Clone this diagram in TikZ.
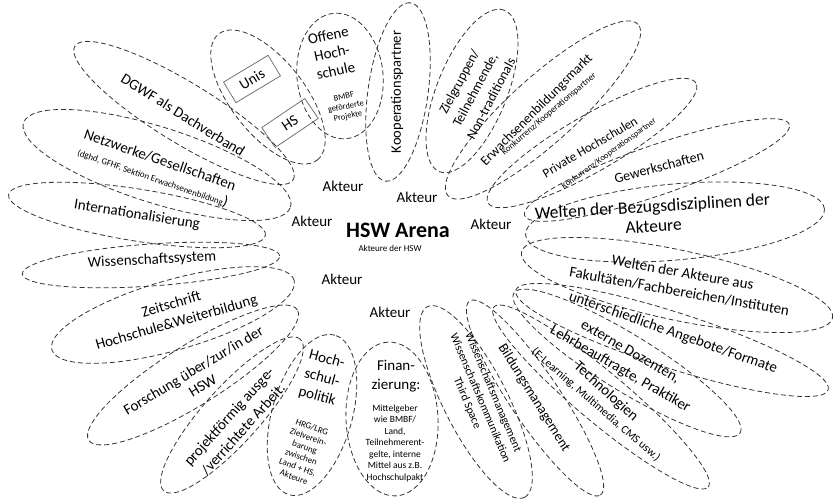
\documentclass[tikz,border=0pt]{standalone}
\usepackage{fontspec}
\setmainfont{Carlito}
\usetikzlibrary{shapes.geometric}
\tikzset{
	petal/.style={ellipse, draw=black!80, line width=0.8pt, dash pattern=on 5pt off 3pt, inner sep=0pt},
	lbl/.style={font=\fontsize{15}{19}\selectfont, align=center, inner sep=0pt},
	sublbl/.style={font=\fontsize{9}{11}\selectfont, align=center, inner sep=0pt},
	instbox/.style={draw=black!55, line width=0.8pt, minimum width=52pt, minimum height=24pt, inner sep=0pt, font=\fontsize{15}{19}\selectfont}
}
\begin{document}
\begin{tikzpicture}[x=1pt, y=-1pt]
	\useasboundingbox (0,0) rectangle (835,500);
	\begin{scope} [every node/.style={petal}]
		\node[minimum width=256pt, minimum height=60pt, rotate=-31.5] (dgwf) at (184,113){};
		\node[minimum width=280pt, minimum height=76pt, rotate=-17.5] (netz) at (157,165){};
		\node[minimum width=260pt, minimum height=52pt, rotate=-9] (inter) at (137,215){};
		\node[minimum width=258pt, minimum height=42pt, rotate=4] (wsys) at (151,265){};
		\node[minimum width=252pt, minimum height=70pt, rotate=16] (zeit) at (173,315){};
		\node[minimum width=246pt, minimum height=60pt, rotate=32] (forsch) at (193,375){};
		\node[minimum width=204pt, minimum height=56pt, rotate=48] (proj) at (232,415){};
		\node[minimum width=166pt, minimum height=80pt, rotate=74] (polit) at (312,415){};
		\node[minimum width=154pt, minimum height=92pt, rotate=93] (finanz) at (392,419){};
		\node[minimum width=214pt, minimum height=64pt, rotate=-63] (wman) at (476,402){};
		\node[minimum width=234pt, minimum height=50pt, rotate=-56] (bman) at (535,398){};
		\node[minimum width=280pt, minimum height=50pt, rotate=-40] (tech) at (601,397){};
		\node[minimum width=266pt, minimum height=56pt, rotate=-31.7] (doz) at (627,363){};
		\node[minimum width=328pt, minimum height=56pt, rotate=-17.7] (angeb) at (672,340){};
		\node[minimum width=318pt, minimum height=70pt, rotate=-12] (fak) at (677,285){};
		\node[minimum width=300pt, minimum height=76pt, rotate=5] (bezug) at (675,222){};
		\node[minimum width=280pt, minimum height=50pt, rotate=19] (gew) at (657,170){};
		\node[minimum width=240pt, minimum height=56pt, rotate=30] (priv) at (592,143){};
		\node[minimum width=256pt, minimum height=66pt, rotate=42] (ebm) at (543,110){};
		\node[minimum width=174pt, minimum height=70pt, rotate=68] (ziel) at (472,91){};
		\node[minimum width=180pt, minimum height=60pt, rotate=82] (koop) at (398,92){};
		\node[minimum width=126pt, minimum height=86pt, rotate=96] (offen) at (340,76){};
		\node[minimum width=160pt, minimum height=74pt, rotate=-52] (hsys) at (268,97){};
	\end{scope}
	\node[instbox, rotate=31] (unis) at (252,79){Unis};
	\node[instbox, rotate=34] (hs) at (290,123){HS};
	\node[lbl, rotate=-32] (dgwf-t) at (183,115){DGWF als Dachverband};
	\node[lbl, rotate=-19] (netz-t) at (160,160){Netzwerke/Gesellschaften};
	\node[sublbl, rotate=-19] (netz-s) at (153,177){(dghd, GFHF, Sektion Erwachsenenbildung{\fontsize{15}{19}\selectfont)}};
	\node[lbl, rotate=-9] (inter-t) at (137,215){Internationalisierung};
	\node[lbl, rotate=3] (wsys-t) at (152,260){Wissenschaftssystem};
	\node[lbl, rotate=16] (zeit-t) at (174,314){Zeitschrift\\Hochschule\&Weiterbildung};
	\node[lbl, rotate=31, font=\fontsize{15}{18}\selectfont] (forsch-t) at (198,378){Forschung über/zur/in der\\HSW};
	\node[lbl, rotate=48] (proj-t) at (236,423){projektförmig ausge-\\/verrichtete Arbeit.};
	\node[lbl, rotate=-15] (polit-t) at (322,378){Hoch-\\schul-\\politik};
	\node[sublbl, rotate=-20, font=\fontsize{9}{10.6}\selectfont] (polit-s) at (303,452){HRG/LRG\\Zielverein-\\barung\\zwischen\\Land + HS,\\Akteure};
	\node[lbl] (finanz-t) at (396,376){Finan-\\zierung:};
	\node[sublbl, font=\fontsize{9.5}{11.5}\selectfont] (finanz-s) at (395,443){Mittelgeber\\wie BMBF/\\Land,\\Teilnehmerent-\\gelte, interne\\Mittel aus z.B.\\Hochschulpakt};
	\node[lbl, rotate=-67, font=\fontsize{11.5}{14}\selectfont] (wman-t) at (480,398){Wissenschaftsmanagement\\Wissenschaftskommunikation\\Third Space};
	\node[lbl, rotate=-58, font=\fontsize{14}{17}\selectfont] (bman-t) at (534,398){Bildungsmanagement};
	\node[lbl, rotate=-42] (tech-t) at (606,392){Technologien};
	\node[lbl, rotate=-41, font=\fontsize{11.5}{14}\selectfont] (tech-s) at (596,405){(E-Learning, Multimedia, CMS usw.)};
	\node[lbl, rotate=-30, font=\fontsize{15}{20}\selectfont] (doz-t) at (625,361){externe Dozenten,\\Lehrbeauftragte, Praktiker};
	\node[lbl, rotate=-19.5] (angeb-t) at (673,333){unterschiedliche Angebote/Formate};
	\node[lbl, rotate=-10] (fak-t) at (681,282){Welten der Akteure aus\\Fakultäten/Fachbereichen/Instituten};
	\node[lbl, rotate=3.5, font=\fontsize{17.5}{20}\selectfont] (bezug-t) at (653,216){Welten der Bezugsdisziplinen der\\Akteure};
	\node[lbl, rotate=15, font=\fontsize{14}{17}\selectfont] (gew-t) at (659,167){Gewerkschaften};
	\node[lbl, rotate=30.5, font=\fontsize{13}{16}\selectfont] (priv-t) at (590,147){Private Hochschulen};
	\node[sublbl, rotate=36, font=\fontsize{8.5}{10}\selectfont] (priv-s) at (609,154){Konkurrenz/Kooperationspartner};
	\node[lbl, rotate=45, font=\fontsize{13.5}{16}\selectfont] (ebm-t) at (537,110){Erwachsenenbildungsmarkt};
	\node[sublbl, rotate=40.5, font=\fontsize{9}{10}\selectfont] (ebm-s) at (549,114){Konkurrenz/Kooperationspartner};
	\node[lbl, rotate=62, font=\fontsize{13.5}{18}\selectfont] (ziel-t) at (475,90){Zielgruppen/\\Teilnehmende,\\Non-traditionals};
	\node[lbl, rotate=90, font=\fontsize{14.5}{18}\selectfont] (koop-t) at (397,92){Kooperationspartner};
	\node[lbl, rotate=12, font=\fontsize{15}{18}\selectfont] (offen-t) at (332,53){Offene\\Hoch-\\schule};
	\node[sublbl, rotate=12, font=\fontsize{8.5}{10}\selectfont] (offen-s) at (346,107){BMBF\\geförderte\\Projekte};
	\node[lbl] (a1) at (343,186){Akteur};
	\node[lbl] (a2) at (417,197){Akteur};
	\node[lbl] (a3) at (312,221){Akteur};
	\node[lbl] (a4) at (491,224){Akteur};
	\node[lbl] (a5) at (342,279){Akteur};
	\node[lbl] (a6) at (390,312){Akteur};
	\node[lbl, font=\fontsize{22}{26}\selectfont\bfseries] (arena) at (398,230){HSW Arena};
	\node[sublbl, font=\fontsize{9}{11}\selectfont] (arena-s) at (390,248){Akteure der HSW};
\end{tikzpicture}
\end{document}
